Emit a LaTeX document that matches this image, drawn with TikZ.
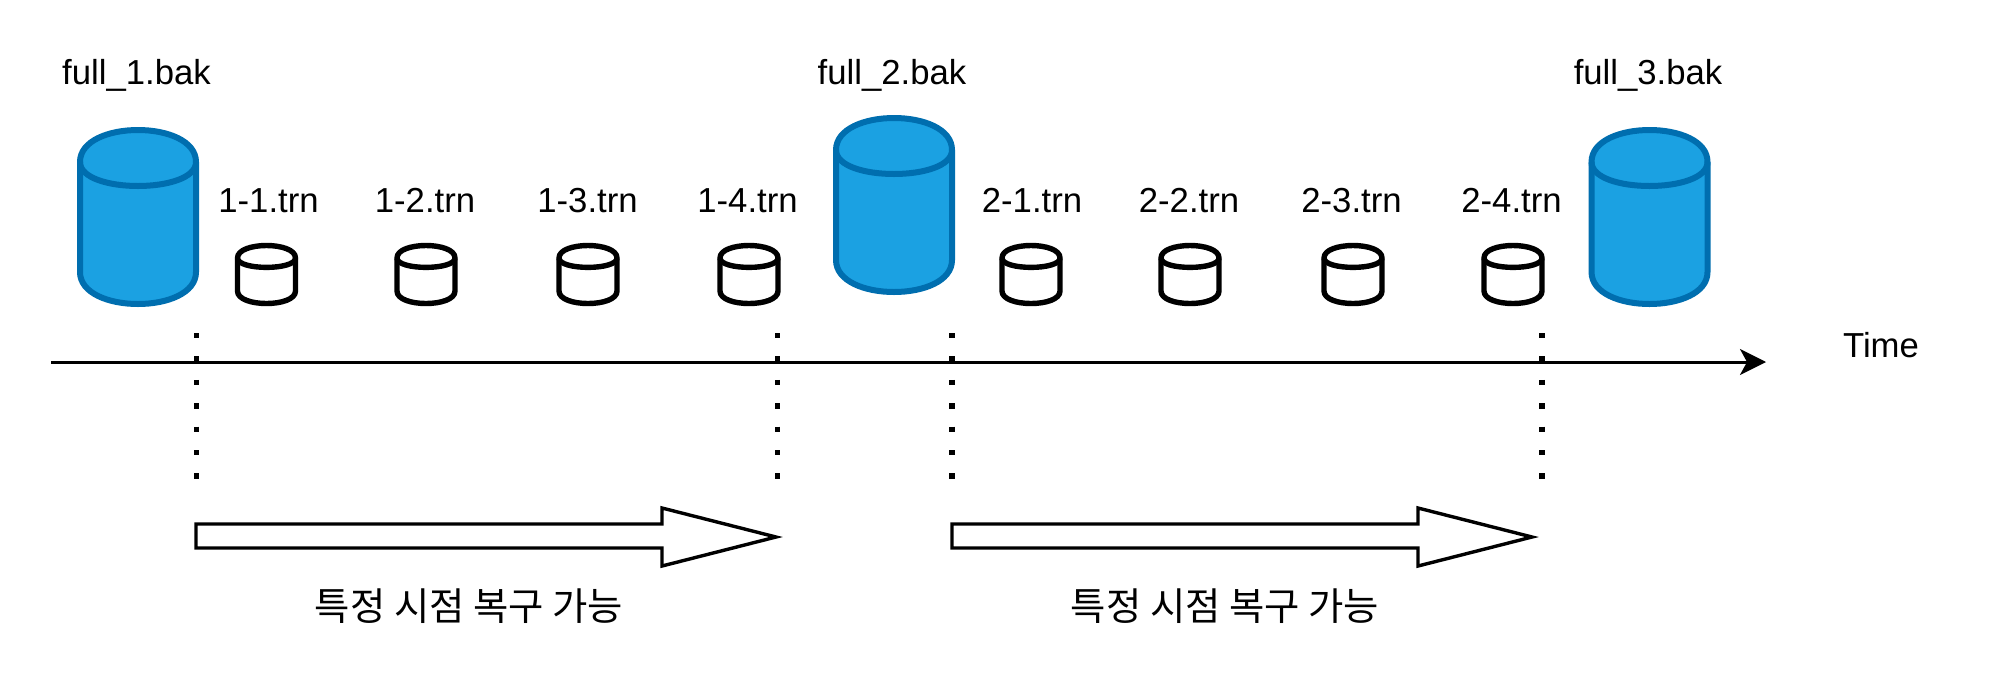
\documentclass[tikz,border=0pt]{standalone}
\usepackage{fontspec}
\setmainfont{Liberation Sans}
\newfontfamily\krfont{Noto Sans CJK KR}
\usetikzlibrary{arrows.meta}
\tikzset{
  lab/.style={font=\fontsize{17.35pt}{20pt}\selectfont,inner sep=0pt,anchor=center},
  krlab/.style={font=\krfont\fontsize{19.2pt}{22pt}\selectfont,inner sep=0pt,anchor=center},
  bigdb/.style={draw=bigstroke,fill=bigfill,line width=3pt,line join=round},
  smalldb/.style={draw=black,fill=white,line width=2.7pt,line join=round},
  dotline/.style={line width=2.7pt,dash pattern=on 2.7pt off 9pt,dash phase=0pt},
  axisline/.style={line width=1.5pt,-{Stealth[length=13pt,width=13pt,inset=3.5pt]}},
  blockarrow/.style={draw=black,fill=white,line width=1.7pt,line join=miter}
}
\definecolor{bigfill}{HTML}{1BA1E2}
\definecolor{bigstroke}{HTML}{006EAF}
% #1 style, #2 centre x, #3 top y, #4 width, #5 height, #6 cap size
\newcommand{\dbshape}[6]{%
  \begin{scope}[shift={(#2-#4/2,#3)}]
    \draw[#1] (0,#6) .. controls (0,-#6/3) and (#4,-#6/3) .. (#4,#6)
      -- (#4,#5-#6) .. controls (#4,#5+#6/3) and (0,#5+#6/3) .. (0,#5-#6) -- cycle;
    \draw[#1,fill=none] (0,#6) .. controls (0,2*#6) and (#4,2*#6) .. (#4,#6);
  \end{scope}}
\newcommand{\blockarr}[1]{%
  \draw[blockarrow,shift={(#1,0)}] (0,524) -- (466,524) -- (466,508) -- (580,537) -- (466,566) -- (466,548) -- (0,548) -- cycle;}
\begin{document}
\begin{tikzpicture}[x=0.5pt,y=-0.5pt]
\useasboundingbox (0,0) rectangle (2000,681);
\fill[white] (0,0) rectangle (2000,681);
% full backups
\dbshape{bigdb}{138}{130}{116}{174}{32}
\dbshape{bigdb}{894}{118}{116}{174}{32}
\dbshape{bigdb}{1649.5}{130}{116}{174}{32}
% log backups
\foreach \cx in {266.5,426,588,749,1031,1190,1353,1513}{\dbshape{smalldb}{\cx}{245.5}{58}{58}{12.5}}
% labels
\node[lab] (f1) at (136.5,75) {full\_1.bak};
\node[lab] (f2) at (892,75) {full\_2.bak};
\node[lab] (f3) at (1648,75) {full\_3.bak};
\node[lab] (l11) at (268.5,200.5) {1-1.trn};
\node[lab] (l12) at (425,200.5) {1-2.trn};
\node[lab] (l13) at (587.5,200.5) {1-3.trn};
\node[lab] (l14) at (747.5,200.5) {1-4.trn};
\node[lab] (l21) at (1032,200.5) {2-1.trn};
\node[lab] (l22) at (1189,200.5) {2-2.trn};
\node[lab] (l23) at (1351.5,200.5) {2-3.trn};
\node[lab] (l24) at (1511.5,200.5) {2-4.trn};
\node[lab] (time) at (1881,345) {Time};
% axis
\coordinate (ax0) at (51,362);
\coordinate (ax1) at (1766,362);
\draw[axisline] (ax0) -- (ax1);
% dotted markers
\foreach \dx in {196.5,777.5,952,1542}{
  \coordinate (dt) at (\dx,333);
  \coordinate (db) at (\dx,480);
  \draw[dotline] (dt) -- (db);
}
% block arrows
\blockarr{196}
\blockarr{952}
\node[krlab] (k1) at (469,606) {특정 시점 복구 가능};
\node[krlab] (k2) at (1225,606) {특정 시점 복구 가능};
\end{tikzpicture}
\end{document}
